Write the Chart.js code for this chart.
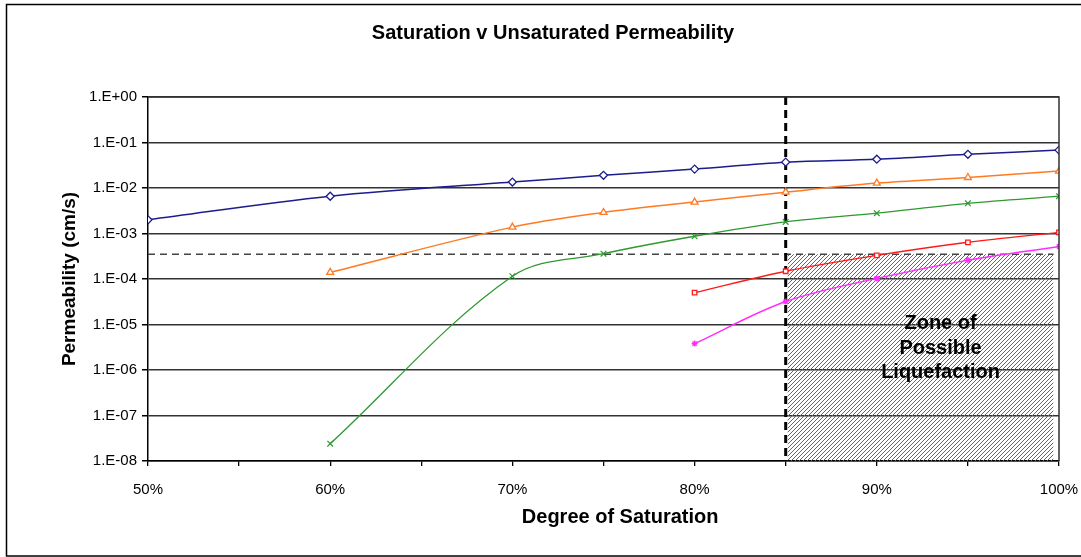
<!DOCTYPE html>
<html>
<head>
<meta charset="utf-8">
<script src="https://cdn.jsdelivr.net/npm/chart.js@4.4.0/dist/chart.umd.min.js"></script>
<style>
  body { margin: 0; background: #fff; }
  canvas { display: block; }
</style>
</head>
<body>
<canvas id="viz" width="1081" height="557"></canvas>
<script>
// saturation (%) for each series
const satFull = [50, 60, 70, 75, 80, 85, 90, 95, 100];
const satFrom60 = [60, 70, 75, 80, 85, 90, 95, 100];
const satFrom80 = [80, 85, 90, 95, 100];

// permeability values (cm/s)
const blueValues = [2.0e-3, 6.6e-3, 1.35e-2, 1.9e-2, 2.6e-2, 3.7e-2, 4.3e-2, 5.5e-2, 6.8e-2];
const orangeValues = [1.4e-4, 1.38e-3, 2.9e-3, 4.9e-3, 8.1e-3, 1.28e-2, 1.7e-2, 2.35e-2];
const greenValues = [2.4e-8, 1.15e-4, 3.6e-4, 8.7e-4, 1.8e-3, 2.8e-3, 4.6e-3, 6.6e-3];
const redValues = [5.0e-5, 1.48e-4, 3.3e-4, 6.4e-4, 1.06e-3];
const magentaValues = [3.8e-6, 3.2e-5, 1.03e-4, 2.6e-4, 5.2e-4];

// liquefaction limits
const satLimit = 85;
const permLimit = 3.5e-4;
const zoneStart = 85.1;
const zoneEnd = 99.7;
const zoneText = ['Zone of', 'Possible', 'Liquefaction'];

// tick labels
const yTickExps = [0, -1, -2, -3, -4, -5, -6, -7, -8];
const yTickLabels = ['1.E+00', '1.E-01', '1.E-02', '1.E-03', '1.E-04', '1.E-05', '1.E-06', '1.E-07', '1.E-08'];

const FONT = "'Liberation Sans', Arial, sans-serif";

function pairs(xs, ys) {
  return xs.map((x, i) => ({ x: x, y: ys[i] }));
}

// diagonal hatch for the zone
function makeHatch() {
  const c = document.createElement('canvas');
  c.width = 4;
  c.height = 4;
  const g = c.getContext('2d');
  g.strokeStyle = '#666';
  g.lineWidth = 1;
  g.beginPath();
  g.moveTo(0, 4); g.lineTo(4, 0);
  g.moveTo(-1, 1); g.lineTo(1, -1);
  g.moveTo(3, 5); g.lineTo(5, 3);
  g.stroke();
  return g.createPattern(c, 'repeat');
}

const framePlugin = {
  id: 'frame',
  beforeDraw(chart) {
    const ctx = chart.ctx;
    ctx.save();
    ctx.fillStyle = '#fff';
    ctx.fillRect(0, 0, chart.width, chart.height);
    ctx.strokeStyle = '#000';
    ctx.lineWidth = 1.5;
    ctx.strokeRect(6.5, 4.5, chart.width + 10, chart.height - 5.5);
    ctx.restore();
  },
  afterDraw(chart) {
    const a = chart.chartArea;
    const ctx = chart.ctx;
    ctx.save();
    ctx.strokeStyle = '#333';
    ctx.lineWidth = 1.5;
    ctx.beginPath();
    ctx.moveTo(a.left, a.top);
    ctx.lineTo(a.right, a.top);
    ctx.lineTo(a.right, a.bottom);
    ctx.stroke();
    ctx.restore();
  }
};

const zoneLabelPlugin = {
  id: 'zoneLabel',
  afterDatasetsDraw(chart) {
    const ctx = chart.ctx;
    const x = chart.scales.x.getPixelForValue(93.5);
    const yMid = chart.scales.y.getPixelForValue(Math.pow(10, -5.5));
    ctx.save();
    ctx.font = 'bold 20px ' + FONT;
    ctx.fillStyle = '#000';
    ctx.textAlign = 'center';
    ctx.textBaseline = 'middle';
    zoneText.forEach((t, i) => {
      ctx.fillText(t, x, yMid + (i - 1) * 24.5 + 1);
    });
    ctx.restore();
  }
};

const ctx = document.getElementById('viz');

new Chart(ctx, {
  type: 'line',
  data: {
    datasets: [
      {
        label: 'Series 1',
        data: pairs(satFull, blueValues),
        borderColor: '#1c1c8c',
        backgroundColor: '#fff',
        borderWidth: 1.5,
        pointStyle: 'rectRot',
        pointRadius: 4,
        pointBorderWidth: 1.3,
        tension: 0.35,
        order: 1
      },
      {
        label: 'Series 2',
        data: pairs(satFrom60, orangeValues),
        borderColor: '#ff7a22',
        backgroundColor: '#fff',
        borderWidth: 1.5,
        pointStyle: 'triangle',
        pointRadius: 4,
        pointBorderWidth: 1.3,
        tension: 0.35,
        order: 2
      },
      {
        label: 'Series 3',
        data: pairs(satFrom60, greenValues),
        borderColor: '#2f982f',
        backgroundColor: '#2f982f',
        borderWidth: 1.3,
        pointStyle: 'crossRot',
        pointRadius: 4,
        pointBorderWidth: 1.2,
        tension: 0.35,
        order: 3
      },
      {
        label: 'Series 4',
        data: pairs(satFrom80, redValues),
        borderColor: '#ff1a1a',
        backgroundColor: '#fff',
        borderWidth: 1.4,
        pointStyle: 'rect',
        pointRadius: 3.2,
        pointBorderWidth: 1.3,
        tension: 0.35,
        order: 4
      },
      {
        label: 'Series 5',
        data: pairs(satFrom80, magentaValues),
        borderColor: '#ff2cff',
        backgroundColor: '#ff2cff',
        borderWidth: 1.4,
        pointStyle: 'star',
        pointRadius: 3,
        pointBorderWidth: 1.4,
        tension: 0.35,
        order: 5
      },
      {
        label: 'Saturation limit',
        data: [{ x: satLimit, y: 1 }, { x: satLimit, y: 1e-8 }],
        borderColor: '#000',
        borderWidth: 3,
        borderDash: [8, 5],
        pointRadius: 0,
        tension: 0,
        order: 6
      },
      {
        label: 'Permeability limit',
        data: [{ x: 50, y: permLimit }, { x: zoneEnd, y: permLimit }],
        borderColor: '#444',
        borderWidth: 1.5,
        borderDash: [7, 5],
        pointRadius: 0,
        tension: 0,
        order: 7
      },
      {
        label: 'Zone',
        data: [{ x: zoneStart, y: permLimit }, { x: zoneEnd, y: permLimit }],
        borderWidth: 0,
        borderColor: 'rgba(0,0,0,0)',
        backgroundColor: makeHatch(),
        fill: 'start',
        pointRadius: 0,
        tension: 0,
        order: 10
      }
    ]
  },
  options: {
    responsive: false,
    devicePixelRatio: 1,
    animation: false,
    layout: { padding: { left: 47, right: 22, top: 4, bottom: 0 } },
    plugins: {
      legend: { display: false },
      tooltip: { enabled: false },
      title: {
        display: true,
        text: 'Saturation v Unsaturated Permeability',
        color: '#000',
        font: { family: FONT, size: 20, weight: 'bold' },
        padding: { top: 17, bottom: 52 }
      }
    },
    scales: {
      x: {
        type: 'linear',
        min: 50,
        max: 100,
        afterFit(scale) {
          scale.height = 96;
          scale.paddingLeft = 0;
          scale.paddingRight = 0;
        },
        border: { color: '#000', width: 1.5 },
        grid: { drawOnChartArea: false, drawTicks: true, tickLength: 5, color: '#000', lineWidth: 1.3 },
        ticks: {
          stepSize: 5,
          autoSkip: false,
          maxRotation: 0,
          padding: 15,
          color: '#000',
          font: { family: FONT, size: 15 },
          callback: v => (v % 10 === 0 ? v + '%' : '')
        },
        title: {
          display: true,
          text: '      Degree of Saturation',
          color: '#000',
          font: { family: FONT, size: 20, weight: 'bold' },
          padding: { top: 0, bottom: 28 }
        }
      },
      y: {
        type: 'logarithmic',
        min: 1e-8,
        max: 1,
        afterFit(scale) { scale.width = 101; },
        afterBuildTicks(scale) {
          scale.ticks = yTickExps.map(e => ({ value: Math.pow(10, e) }));
        },
        border: { color: '#000', width: 1.5 },
        grid: { color: '#333', lineWidth: 1.5, tickLength: 6, tickColor: '#000' },
        ticks: {
          padding: 5,
          color: '#000',
          font: { family: FONT, size: 15 },
          callback: v => yTickLabels[yTickExps.indexOf(Math.round(Math.log10(v)))]
        },
        title: {
          display: true,
          text: 'Permeability (cm/s)',
          color: '#000',
          font: { family: FONT, size: 19, weight: 'bold' },
          padding: { top: 11, bottom: 0 }
        }
      }
    }
  },
  plugins: [framePlugin, zoneLabelPlugin]
});
</script>
</body>
</html>
